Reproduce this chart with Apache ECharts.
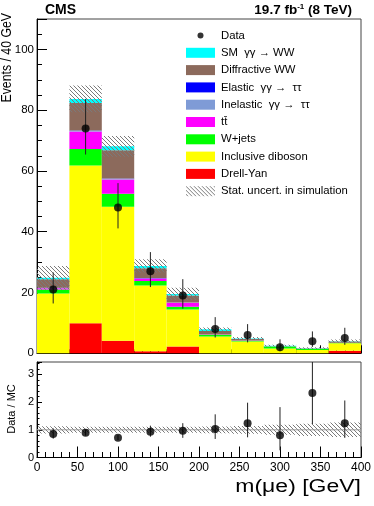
<!DOCTYPE html>
<html>
<head>
<meta charset="utf-8">
<script src="https://cdn.jsdelivr.net/npm/echarts@6/dist/echarts.min.js"></script>
<style>
  html, body { margin: 0; padding: 0; background: #fff; }
  #chart { width: 374px; height: 506px; }
</style>
</head>
<body>
<div id="chart"></div>
<script>
// bins of m(mu e), 40 GeV wide
var binEdges = [0, 40, 80, 120, 160, 200, 240, 280, 320, 360, 400]
var xTicks = [0, 50, 100, 150, 200, 250, 300, 350, 400]

// simulated backgrounds (events / 40 GeV), stacked bottom -> top
var drellYan   = [0, 9.9, 4.1, 0.7, 2.2, 0, 0, 0, 0, 0.8]
var diboson    = [19.7, 51.9, 44.1, 21.6, 12.2, 5.5, 3.9, 1.6, 1.1, 2.5]
var wJets      = [1.3, 5.4, 4.3, 1.5, 0.9, 0.5, 0.2, 0.6, 0.3, 0.2]
var ttbar      = [0.4, 5.8, 4.7, 0.8, 1.3, 0.1, 0.1, 0, 0, 0]
var inelTauTau = [0.1, 0.2, 0.2, 0.1, 0.1, 0.05, 0, 0, 0, 0]
var elTauTau   = [0.05, 0.1, 0.1, 0.05, 0.05, 0, 0, 0, 0, 0]
var diffWW     = [2.8, 9.1, 9.3, 3.2, 2.3, 1.2, 0.5, 0.1, 0.2, 0.4]
var smWW       = [0.5, 1.3, 1.3, 0.8, 0.5, 0.6, 0.2, 0.2, 0.1, 0.1]
var mcStatUnc  = [3.9, 4.4, 3.4, 2.2, 2.0, 0.5, 0.5, 0.3, 0.3, 0.5]

// observed data with asymmetric errors
var dataCounts = [21, 74, 48, 27, 19, 8, 6, 2, 4, 5]
var dataErrUp  = [5.6, 9.7, 8.0, 6.3, 5.4, 3.9, 3.6, 2.6, 3.2, 3.4]
var dataErrDn  = [4.6, 8.6, 6.9, 5.2, 4.3, 2.8, 2.4, 1.3, 1.9, 2.2]

// ratio panel
var ratioVals  = [0.85, 0.89, 0.71, 0.93, 0.97, 1.03, 1.24, 0.80, 2.33, 1.24]
var ratioErrUp = [0.2, 0.12, 0.1, 0.22, 0.27, 0.53, 0.74, 1.02, 1.8, 0.82]
var ratioErrDn = [0.17, 0.1, 0.08, 0.18, 0.26, 0.36, 0.51, 0.54, 1.12, 0.53]
var ratioBand  = [0.13, 0.11, 0.11, 0.11, 0.11, 0.12, 0.14, 0.18, 0.22, 0.26]

var FONT = 'Liberation Sans, Arial, sans-serif'

// diagonal hatch, like the ROOT stat. uncertainty fill
function makeHatch(color) {
  var c = document.createElement('canvas')
  c.width = 4
  c.height = 4
  var ctx = c.getContext('2d')
  ctx.strokeStyle = color
  ctx.lineWidth = 1
  ctx.beginPath()
  ctx.moveTo(-1, -1); ctx.lineTo(5, 5)
  ctx.moveTo(-1, 3); ctx.lineTo(1, 5)
  ctx.moveTo(3, -1); ctx.lineTo(5, 1)
  ctx.stroke()
  return { image: c, repeat: 'repeat' }
}
var hatch = makeHatch('#7a7a7a')

function rectItem(params, api) {
  var p0 = api.coord([api.value(0), api.value(3)])
  var p1 = api.coord([api.value(1), api.value(2)])
  var cs = params.coordSys
  var top = Math.max(p0[1], cs.y)
  var bot = Math.min(p1[1], cs.y + cs.height)
  if (bot - top <= 0) return
  return {
    type: 'rect',
    shape: { x: p0[0], y: top, width: p1[0] - p0[0], height: bot - top },
    style: api.style({ stroke: null })
  }
}

function errItem(params, api) {
  var a = api.coord([api.value(0), api.value(1)])
  var b = api.coord([api.value(0), api.value(2)])
  var cs = params.coordSys
  var y1 = Math.max(Math.min(a[1], b[1]), cs.y)
  var y2 = Math.min(Math.max(a[1], b[1]), cs.y + cs.height)
  return {
    type: 'line',
    shape: { x1: a[0], y1: y1, x2: b[0], y2: y2 },
    style: { stroke: '#222', lineWidth: 1 }
  }
}

var centers = dataCounts.map(function(_, i) { return (binEdges[i] + binEdges[i + 1]) / 2 })

var stackDefs = [
  { name: 'Drell-Yan', values: drellYan, color: '#ff0000' },
  { name: 'Inclusive diboson', values: diboson, color: '#ffff00' },
  { name: 'W+jets', values: wJets, color: '#00ff00' },
  { name: 'tt\u0304', values: ttbar, color: '#ff00ff' },
  { name: 'Inelastic  \u03b3\u03b3 \u2192  \u03c4\u03c4', values: inelTauTau, color: '#7f9bd6' },
  { name: 'Elastic  \u03b3\u03b3 \u2192  \u03c4\u03c4', values: elTauTau, color: '#0000ff' },
  { name: 'Diffractive WW', values: diffWW, color: '#8c6a5c' },
  { name: 'SM  \u03b3\u03b3 \u2192 WW', values: smWW, color: '#00ffff' }
]

var totals = dataCounts.map(function() { return 0 })
var series = []
stackDefs.forEach(function(d) {
  var rows = d.values.map(function(v, i) {
    var row = [binEdges[i], binEdges[i + 1], totals[i], totals[i] + v]
    totals[i] += v
    return row
  })
  series.push({
    name: d.name,
    type: 'custom',
    xAxisIndex: 0,
    yAxisIndex: 0,
    renderItem: rectItem,
    itemStyle: { color: d.color },
    data: rows
  })
})

series.push({
  name: 'Stat. uncert. in simulation',
  type: 'custom',
  xAxisIndex: 0,
  yAxisIndex: 0,
  renderItem: rectItem,
  itemStyle: { color: hatch },
  data: totals.map(function(t, i) {
    return [binEdges[i], binEdges[i + 1], t - mcStatUnc[i], t + mcStatUnc[i]]
  })
})

series.push({
  name: 'dataErr',
  type: 'custom',
  xAxisIndex: 0,
  yAxisIndex: 0,
  renderItem: errItem,
  data: dataCounts.map(function(v, i) { return [centers[i], v - dataErrDn[i], v + dataErrUp[i]] }),
  z: 5
})

series.push({
  name: 'Data',
  type: 'scatter',
  xAxisIndex: 0,
  yAxisIndex: 0,
  symbolSize: 8,
  itemStyle: { color: '#000' },
  data: dataCounts.map(function(v, i) { return [centers[i], v] }),
  z: 6
})

// ratio panel
series.push({
  name: 'ratioBand',
  type: 'custom',
  xAxisIndex: 1,
  yAxisIndex: 1,
  renderItem: rectItem,
  itemStyle: { color: hatch },
  data: ratioBand.map(function(u, i) { return [binEdges[i], binEdges[i + 1], 1 - u, 1 + u] })
})
series.push({
  name: 'unity',
  type: 'line',
  xAxisIndex: 1,
  yAxisIndex: 1,
  symbol: 'none',
  lineStyle: { color: '#999', width: 1 },
  data: [[binEdges[0], 1], [binEdges[binEdges.length - 1], 1]]
})
series.push({
  name: 'ratioErr',
  type: 'custom',
  xAxisIndex: 1,
  yAxisIndex: 1,
  renderItem: errItem,
  data: ratioVals.map(function(v, i) { return [centers[i], v - ratioErrDn[i], v + ratioErrUp[i]] }),
  z: 5
})
series.push({
  name: 'ratio',
  type: 'scatter',
  xAxisIndex: 1,
  yAxisIndex: 1,
  symbolSize: 8,
  itemStyle: { color: '#000' },
  data: ratioVals.map(function(v, i) { return [centers[i], v] }),
  z: 6
})

function xAxisCfg(grid, showLabels, tickLen) {
  return {
    type: 'value',
    gridIndex: grid,
    min: xTicks[0],
    max: xTicks[xTicks.length - 1],
    interval: xTicks[1] - xTicks[0],
    axisLine: { lineStyle: { color: '#000', width: 1 } },
    axisTick: { inside: true, length: tickLen, lineStyle: { color: '#000' } },
    minorTick: { show: true, splitNumber: 5, length: tickLen / 2, lineStyle: { color: '#000' } },
    splitLine: { show: false },
    axisLabel: { show: showLabels, fontSize: 12, color: '#000', fontFamily: FONT, margin: 4 }
  }
}

var chart = echarts.init(document.getElementById('chart'), null, { renderer: 'canvas' })
chart.setOption({
  animation: false,
  backgroundColor: '#fff',
  grid: [
    { left: 37, right: 13, top: 19, height: 334.3, show: true, borderColor: '#444', borderWidth: 1 },
    { left: 37, right: 13, top: 362, height: 95.5, show: true, borderColor: '#444', borderWidth: 1 }
  ],
  xAxis: [xAxisCfg(0, false, 8), xAxisCfg(1, true, 11)],
  yAxis: [
    {
      type: 'value', gridIndex: 0, min: 0, max: 110, interval: 20,
      axisLine: { show: true, lineStyle: { color: '#000' } },
      axisTick: { show: true, inside: true, length: 10, lineStyle: { color: '#000' } },
      minorTick: { show: true, splitNumber: 4, length: 5, lineStyle: { color: '#000' } },
      splitLine: { show: false },
      axisLabel: { fontSize: 11.5, color: '#000', fontFamily: FONT, margin: 3, showMaxLabel: false }
    },
    {
      type: 'value', gridIndex: 1, min: 0, max: 3.45, interval: 1,
      axisLine: { show: true, lineStyle: { color: '#000' } },
      axisTick: { show: true, inside: true, length: 5, lineStyle: { color: '#000' } },
      minorTick: { show: true, splitNumber: 5, length: 2.5, lineStyle: { color: '#000' } },
      splitLine: { show: false },
      axisLabel: { fontSize: 11, color: '#000', fontFamily: FONT, margin: 3, showMaxLabel: false }
    }
  ],
  legend: {
    orient: 'vertical',
    left: 186,
    top: 30,
    padding: 0,
    itemWidth: 29,
    itemHeight: 10,
    itemGap: 6.3,
    selectedMode: false,
    textStyle: { fontSize: 11.3, color: '#000', fontFamily: FONT, padding: [0, 0, 0, 1] },
    data: [
      { name: 'Data', icon: 'path://M0,0 M29,10 M11.5,5 A3,3 0 1,0 17.5,5 A3,3 0 1,0 11.5,5 Z' },
      { name: 'SM  \u03b3\u03b3 \u2192 WW', icon: 'rect' },
      { name: 'Diffractive WW', icon: 'rect' },
      { name: 'Elastic  \u03b3\u03b3 \u2192  \u03c4\u03c4', icon: 'rect' },
      { name: 'Inelastic  \u03b3\u03b3 \u2192  \u03c4\u03c4', icon: 'rect' },
      { name: 'tt\u0304', icon: 'rect' },
      { name: 'W+jets', icon: 'rect' },
      { name: 'Inclusive diboson', icon: 'rect' },
      { name: 'Drell-Yan', icon: 'rect' },
      { name: 'Stat. uncert. in simulation', icon: 'rect' }
    ]
  },
  graphic: [
    { type: 'text', x: 45, y: 10, style: { text: 'CMS', font: 'bold 14px ' + FONT, fill: '#000', verticalAlign: 'middle' } },
    {
      type: 'text', x: 352, y: 10,
      style: {
        text: '{a|19.7 fb}{s|-1}{a| (8 TeV)}',
        align: 'right', verticalAlign: 'middle',
        rich: {
          a: { font: 'bold 13.5px ' + FONT, fill: '#000' },
          s: { font: 'bold 8px ' + FONT, fill: '#000', verticalAlign: 'top', padding: [0, 0, 6, 0] }
        }
      }
    },
    { type: 'text', x: 7.5, y: 13, rotation: Math.PI / 2, scaleY: 1.15, style: { text: 'Events / 40 GeV', font: '12.3px ' + FONT, fill: '#000', align: 'right', verticalAlign: 'middle' } },
    { type: 'text', x: 12, y: 409, rotation: Math.PI / 2, style: { text: 'Data / MC', font: '11px ' + FONT, fill: '#000', align: 'center', verticalAlign: 'middle' } },
    { type: 'text', x: 361, y: 487, scaleY: 0.78, style: { text: 'm(\u03bce) [GeV]', font: '23px ' + FONT, fill: '#000', align: 'right', verticalAlign: 'middle' } }
  ],
  series: series
})
</script>
</body>
</html>
